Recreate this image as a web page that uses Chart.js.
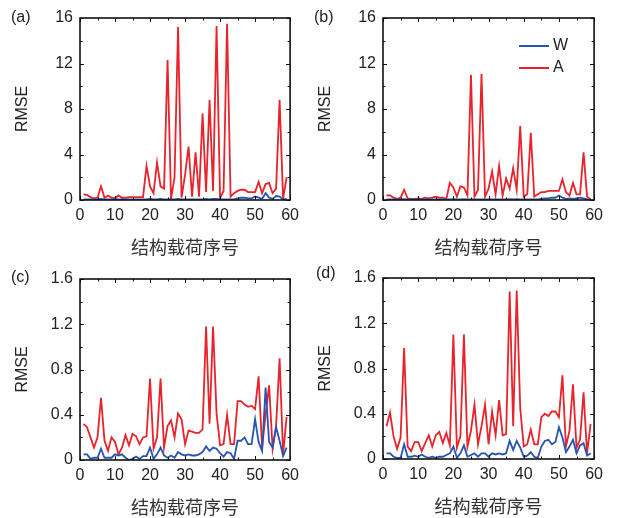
<!DOCTYPE html>
<html>
<head>
<meta charset="utf-8">
<script src="https://cdn.jsdelivr.net/npm/chart.js@4.4.0/dist/chart.umd.min.js"></script>
<style>
  body { margin: 0; background: #fff; width: 617px; height: 518px; overflow: hidden; position: relative;
         font-family: "Liberation Sans", Arial, sans-serif; }
  .panel { position: absolute; }
  .tag { position: absolute; font-size: 16px; line-height: 18px; color: #222; }
</style>
</head>
<body>
<div class="panel" style="left:0;top:0"><canvas id="chartA" width="305" height="262"></canvas></div>
<div class="panel" style="left:303px;top:0"><canvas id="chartB" width="306" height="262"></canvas></div>
<div class="panel" style="left:0;top:260px"><canvas id="chartC" width="305" height="262"></canvas></div>
<div class="panel" style="left:303px;top:259px"><canvas id="chartD" width="306" height="262"></canvas></div>
<div class="tag" style="left:11px;top:8px">(a)</div>
<div class="tag" style="left:314px;top:8px">(b)</div>
<div class="tag" style="left:11px;top:268px">(c)</div>
<div class="tag" style="left:316px;top:264px">(d)</div>
<script>
// load numbers (x axis)
const loadNo = [1, 2, 3, 4, 5, 6, 7, 8, 9, 10,
  11, 12, 13, 14, 15, 16, 17, 18, 19, 20,
  21, 22, 23, 24, 25, 26, 27, 28, 29, 30,
  31, 32, 33, 34, 35, 36, 37, 38, 39, 40,
  41, 42, 43, 44, 45, 46, 47, 48, 49, 50,
  51, 52, 53, 54, 55, 56, 57, 58, 59];

const seriesNames = ["W", "A"];
const xTicks = [0, 10, 20, 30, 40, 50, 60];
const yTicksTop = [0, 4, 8, 12, 16];
const yTicksBottom = [0, 0.4, 0.8, 1.2, 1.6];

// (a)
const aW = [0.05, 0.05, 0.05, 0.05, 0.05, 0.1, 0.05, 0.05, 0.05, 0.05,
  0.05, 0.05, 0.05, 0.05, 0.05, 0.05, 0.05, 0.05, 0.05, 0.1,
  0.05, 0.05, 0.1, 0.05, 0.05, 0.05, 0.05, 0.1, 0.05, 0.05,
  0.05, 0.05, 0.05, 0.05, 0.05, 0.1, 0.05, 0.1, 0.1, 0.05,
  0.05, 0.05, 0.05, 0.05, 0.15, 0.2, 0.2, 0.15, 0.15, 0.3,
  0.2, 0.1, 0.6, 0.2, 0.1, 0.35, 0.3, 0.05, 0.1];
const aA = [0.5, 0.45, 0.25, 0.15, 0.2, 1.2, 0.2, 0.4, 0.2, 0.15,
  0.4, 0.2, 0.2, 0.25, 0.25, 0.25, 0.25, 0.25, 3.0, 1.2,
  0.6, 3.3, 1.2, 1.0, 12.3, 0.1, 2.0, 15.2, 0.2, 2.2,
  4.7, 0.3, 4.2, 0.3, 7.6, 0.7, 8.8, 0.8, 15.3, 0.2,
  0.8, 15.5, 0.3, 0.6, 0.8, 0.9, 0.9, 0.7, 0.7, 0.7,
  1.6, 0.6, 1.4, 1.5, 0.6, 1.0, 8.8, 0.1, 2.0];

// (b)
const bW = [0.05, 0.05, 0.05, 0.05, 0.05, 0.08, 0.05, 0.05, 0.05, 0.05,
  0.05, 0.05, 0.05, 0.05, 0.05, 0.05, 0.05, 0.05, 0.05, 0.08,
  0.05, 0.05, 0.08, 0.05, 0.05, 0.05, 0.05, 0.05, 0.05, 0.05,
  0.05, 0.05, 0.05, 0.05, 0.05, 0.08, 0.05, 0.08, 0.05, 0.05,
  0.05, 0.05, 0.05, 0.05, 0.1, 0.15, 0.15, 0.2, 0.2, 0.4,
  0.2, 0.1, 0.15, 0.1, 0.15, 0.2, 0.15, 0.05, 0.05];
const bA = [0.4, 0.4, 0.2, 0.1, 0.2, 0.9, 0.15, 0.1, 0.1, 0.15,
  0.1, 0.2, 0.15, 0.2, 0.3, 0.2, 0.2, 0.1, 1.5, 1.1,
  0.3, 1.2, 1.1, 0.4, 11.0, 0.3, 0.9, 11.1, 0.3, 1.0,
  2.5, 0.5, 3.0, 0.4, 1.9, 1.0, 2.8, 0.9, 6.5, 0.3,
  0.5, 5.9, 0.3, 0.5, 0.7, 0.7, 0.8, 0.8, 0.8, 0.8,
  1.8, 0.7, 0.4, 1.5, 0.5, 0.5, 4.2, 0.3, 0.05];

// (c)
const cW = [0.05, 0.05, 0.01, 0.02, 0.02, 0.1, 0.02, 0.02, 0.02, 0.05,
  0.04, 0.05, 0.02, 0.0, 0.01, 0.03, 0.01, 0.035, 0.035, 0.11,
  0.01, 0.05, 0.11, 0.04, 0.02, 0.04, 0.02, 0.07, 0.05, 0.04,
  0.05, 0.04, 0.04, 0.05, 0.07, 0.12, 0.08, 0.11, 0.1, 0.06,
  0.03, 0.07, 0.06, 0.01, 0.17, 0.17, 0.2, 0.14, 0.14, 0.36,
  0.16, 0.08, 0.64, 0.16, 0.11, 0.29, 0.17, 0.035, 0.11];
const cA = [0.32, 0.29, 0.2, 0.11, 0.2, 0.55, 0.17, 0.08, 0.2, 0.16,
  0.05, 0.11, 0.22, 0.13, 0.23, 0.21, 0.14, 0.2, 0.21, 0.72,
  0.1, 0.2, 0.72, 0.11, 0.3, 0.35, 0.2, 0.41, 0.36, 0.14,
  0.26, 0.25, 0.24, 0.24, 0.27, 1.18, 0.32, 1.18, 0.41, 0.13,
  0.14, 0.4, 0.14, 0.14, 0.52, 0.52, 0.49, 0.47, 0.48, 0.45,
  0.74, 0.11, 0.4, 0.66, 0.1, 0.3, 0.9, 0.05, 0.38];

// (d)
const dW = [0.05, 0.05, 0.02, 0.01, 0.01, 0.13, 0.02, 0.02, 0.03, 0.02,
  0.04, 0.02, 0.01, 0.02, 0.01, 0.02, 0.02, 0.035, 0.05, 0.11,
  0.01, 0.05, 0.12, 0.02, 0.035, 0.05, 0.02, 0.05, 0.05, 0.02,
  0.05, 0.04, 0.05, 0.04, 0.05, 0.16, 0.08, 0.16, 0.1, 0.02,
  0.03, 0.06, 0.02, 0.01, 0.11, 0.16, 0.17, 0.13, 0.15, 0.28,
  0.19, 0.06, 0.11, 0.17, 0.05, 0.12, 0.14, 0.03, 0.05];
const dA = [0.29, 0.41, 0.2, 0.09, 0.19, 0.98, 0.11, 0.07, 0.15, 0.15,
  0.07, 0.14, 0.21, 0.11, 0.21, 0.24, 0.14, 0.23, 0.12, 1.1,
  0.1, 0.2, 1.1, 0.11, 0.25, 0.48, 0.13, 0.29, 0.48, 0.13,
  0.42, 0.21, 0.52, 0.21, 0.22, 1.48, 0.29, 1.49, 0.45, 0.11,
  0.13, 0.26, 0.13, 0.13, 0.37, 0.4, 0.38, 0.42, 0.42, 0.37,
  0.74, 0.11, 0.25, 0.66, 0.1, 0.17, 0.59, 0.05, 0.31];

const BLUE = "#2654b4";
const RED = "#e8232b";
const INK = "#222";

Chart.defaults.font.family = "'Liberation Sans', Arial, sans-serif";
Chart.defaults.font.size = 16;
Chart.defaults.color = INK;

// frame around the plot with inward ticks on all four sides
const boxTicks = {
  id: "boxTicks",
  afterDatasetsDraw(chart) {
    const { ctx, chartArea: a, scales: { x, y } } = chart;
    const mids = (vals) => vals.slice(1).map((v, i) => (v + vals[i]) / 2);
    const xMaj = x.ticks.map(t => t.value), yMaj = y.ticks.map(t => t.value);
    ctx.save();
    ctx.strokeStyle = "#111";
    ctx.lineWidth = 1;
    ctx.beginPath();
    const tickX = (vals, len) => vals.forEach(v => {
      const px = Math.round(x.getPixelForValue(v)) + 0.5;
      ctx.moveTo(px, a.bottom); ctx.lineTo(px, a.bottom - len);
      ctx.moveTo(px, a.top); ctx.lineTo(px, a.top + len);
    });
    const tickY = (vals, len) => vals.forEach(v => {
      const py = Math.round(y.getPixelForValue(v)) + 0.5;
      ctx.moveTo(a.left, py); ctx.lineTo(a.left + len, py);
      ctx.moveTo(a.right, py); ctx.lineTo(a.right - len, py);
    });
    tickX(xMaj, 4); tickX(mids(xMaj), 2.5);
    tickY(yMaj, 4); tickY(mids(yMaj), 2.5);
    ctx.stroke();
    ctx.lineWidth = 1.6;
    ctx.strokeRect(a.left, a.top, a.right - a.left, a.bottom - a.top);
    ctx.restore();
  }
};

// small legend inside the plot (line then label)
const lineKey = {
  id: "lineKey",
  afterDraw(chart, args, opts) {
    if (!opts.show) return;
    const { ctx, chartArea: a } = chart;
    ctx.save();
    ctx.font = "16px 'Liberation Sans', Arial, sans-serif";
    ctx.textBaseline = "middle";
    opts.order.forEach((name, i) => {
      const ds = chart.data.datasets.find(d => d.label === name);
      const yy = a.top + opts.dy + i * opts.gap;
      ctx.strokeStyle = ds.borderColor;
      ctx.lineWidth = 2;
      ctx.beginPath();
      ctx.moveTo(a.left + opts.dx, yy);
      ctx.lineTo(a.left + opts.dx + opts.len, yy);
      ctx.stroke();
      ctx.fillStyle = INK;
      ctx.fillText(name, a.left + opts.dx + opts.len + 4, yy);
    });
    ctx.restore();
  }
};

function toPoints(vals) {
  return vals.map((v, i) => ({ x: loadNo[i], y: v }));
}

function createPanel(id, wVals, aVals, yTicks, padTop, padRight, showKey) {
  const ctx = document.getElementById(id).getContext("2d");
  return new Chart(ctx, {
    type: "line",
    data: {
      datasets: [
        { label: seriesNames[0], data: toPoints(wVals), borderColor: BLUE, backgroundColor: BLUE, borderWidth: 1.8, pointRadius: 0, tension: 0, order: 0 },
        { label: seriesNames[1], data: toPoints(aVals), borderColor: RED, backgroundColor: RED, borderWidth: 1.8, pointRadius: 0, tension: 0, order: 1 }
      ]
    },
    options: {
      responsive: false,
      animation: false,
      devicePixelRatio: 1,
      layout: { padding: { top: padTop, right: padRight, left: 0, bottom: 0 } },
      plugins: {
        legend: { display: false },
        tooltip: { enabled: false },
        lineKey: { show: showKey, order: seriesNames, dx: 136, dy: 28, gap: 22, len: 30 }
      },
      scales: {
        x: {
          type: "linear",
          min: xTicks[0], max: xTicks[xTicks.length - 1],
          afterBuildTicks: (s) => { s.ticks = xTicks.map(v => ({ value: v })); },
          afterFit: (s) => { s.height = 62; },
          grid: { display: false, drawTicks: false },
          border: { display: false },
          ticks: { padding: 6, maxRotation: 0, autoSkip: false, color: INK },
          title: {
            display: true, text: "结构载荷序号", color: "#333",
            font: { family: "'Noto Sans CJK SC', sans-serif", size: 18 },
            padding: { top: 0, bottom: 4 }
          }
        },
        y: {
          min: yTicks[0], max: yTicks[yTicks.length - 1],
          afterBuildTicks: (s) => { s.ticks = yTicks.map(v => ({ value: v })); },
          afterFit: (s) => { s.width = 80; },
          grid: { display: false, drawTicks: false },
          border: { display: false },
          ticks: { padding: 7, color: INK },
          title: { display: true, text: "RMSE", color: INK, font: { size: 16 }, padding: { top: 13, bottom: 0 } }
        }
      }
    },
    plugins: [boxTicks, lineKey]
  });
}

window.addEventListener("DOMContentLoaded", () => {
  createPanel("chartA", aW, aA, yTicksTop, 18, 13, false);
  createPanel("chartB", bW, bA, yTicksTop, 18, 13, true);
  createPanel("chartC", cW, cA, yTicksBottom, 19, 13, false);
  createPanel("chartD", dW, dA, yTicksBottom, 19, 13, false);
});
</script>
</body>
</html>
